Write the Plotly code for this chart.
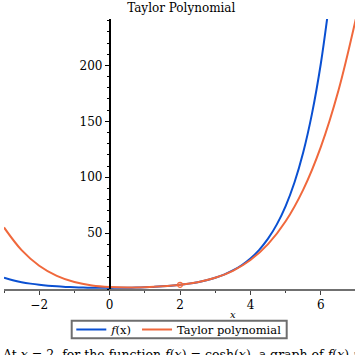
import plotly.graph_objects as go

# f(x) = cosh(x)
fx_x = [-3, -2.75, -2.5, -2.25, -2, -1.75, -1.5, -1.25, -1, -0.75, -0.5, -0.25, 0,
        0.25, 0.5, 0.75, 1, 1.25, 1.5, 1.75, 2, 2.25, 2.5, 2.75, 3, 3.25, 3.5, 3.75,
        4, 4.25, 4.5, 4.75, 5, 5.25, 5.5, 5.75, 6, 6.25]
fx_y = [10.07, 7.85, 6.13, 4.80, 3.76, 2.96, 2.35, 1.89, 1.54, 1.29, 1.13, 1.03, 1.0,
        1.03, 1.13, 1.29, 1.54, 1.89, 2.35, 2.96, 3.76, 4.80, 6.13, 7.85, 10.07, 12.92, 16.57, 21.27,
        27.31, 35.06, 45.01, 57.79, 74.21, 95.28, 122.35, 157.10, 201.72, 259.0]

# Taylor polynomial (degree 4 about x = 2)
tp_x = [-3, -2.5, -2, -1.5, -1, -0.5, 0, 0.5, 1, 1.5, 2, 2.5, 3, 3.5, 4, 4.5, 5, 5.5, 6, 6.5, 7]
tp_y = [55.07, 34.73, 20.80, 11.72, 6.19, 3.13, 1.71, 1.31, 1.57, 2.35, 3.76, 6.13, 10.03,
        16.27, 25.89, 40.15, 60.59, 88.94, 127.18, 177.53, 242.45]

center_x = [2]
center_y = [3.76]

x_ticks = [-2, 0, 2, 4, 6]
y_ticks = [50, 100, 150, 200]

BLUE = "#0a50d2"
ORANGE = "#f0683c"
FONT = "DejaVu Serif"
FS = 12

fig = go.Figure()
fig.add_trace(go.Scatter(x=fx_x, y=fx_y, mode="lines", name="<i>f</i>(x)",
                         line=dict(color=BLUE, width=2, shape="spline")))
fig.add_trace(go.Scatter(x=tp_x, y=tp_y, mode="lines", name="Taylor polynomial",
                         line=dict(color=ORANGE, width=2, shape="spline")))
fig.add_trace(go.Scatter(x=center_x, y=center_y, mode="markers", showlegend=False,
                         marker=dict(symbol="circle-open", size=5, color=ORANGE,
                                     line=dict(width=1.2, color=ORANGE))))

x0, x1 = -3, 6.97
ypos = (0 - x0) / (x1 - x0)

fig.update_layout(
    width=355, height=355,
    margin=dict(l=4, r=0, t=19, b=66),
    paper_bgcolor="white", plot_bgcolor="white",
    font=dict(family=FONT, size=FS, color="black"),
    title=dict(text="Taylor Polynomial", x=0.505, xref="paper", xanchor="center",
               y=1 - 8 / 355, yref="container", yanchor="middle",
               font=dict(family=FONT, size=FS, color="black")),
    showlegend=True,
    legend=dict(orientation="h", x=0.498, xanchor="center", y=(289 - 329.5) / 270, yanchor="middle",
                borderwidth=0, bgcolor="rgba(0,0,0,0)",
                font=dict(family=FONT, size=11.5, color="black"),
                itemwidth=30, tracegroupgap=0),
    xaxis=dict(range=[x0, x1], showgrid=False, zeroline=False,
               showline=True, linecolor="#707070", linewidth=2,
               tickvals=x_ticks, ticks="outside", ticklen=4, tickcolor="#404040", tickwidth=1,
               minor=dict(dtick=1, tick0=0, ticks="outside", ticklen=2, tickcolor="#404040"),
               tickfont=dict(family=FONT, size=FS, color="black"), fixedrange=True),
    yaxis=dict(range=[0, 241.5], showgrid=False, zeroline=False,
               anchor="free", position=ypos,
               showline=True, linecolor="black", linewidth=1.5,
               tickvals=y_ticks, ticks="outside", ticklen=4, tickcolor="black", tickwidth=1,
               minor=dict(dtick=10, tick0=0, ticks="outside", ticklen=2, tickcolor="black"),
               tickfont=dict(family=FONT, size=FS, color="black"), fixedrange=True),
)

# legend frame
fig.add_shape(type="rect", xref="paper", yref="paper",
              x0=(71.7 - 4) / 351, x1=(286.7 - 4) / 351,
              y0=(289 - 338.3) / 270, y1=(289 - 320.7) / 270,
              line=dict(color="#6e6e6e", width=2), fillcolor="rgba(0,0,0,0)")

fig.add_annotation(text="<i>x</i>", x=3.5, xref="x", y=0, yref="paper", yshift=-25,
                   xanchor="center", yanchor="middle", showarrow=False,
                   font=dict(family=FONT, size=10, color="black"))
fig.add_annotation(text="At <i>x</i> = 2, for the function <i>f</i>(<i>x</i>) = cosh(<i>x</i>), a graph of <i>f</i>(<i>x</i>) and its Taylor polynomial",
                   x=-4 / 351, xref="paper", xanchor="left",
                   y=-(345 - 289) / 270, yref="paper", yanchor="top", showarrow=False,
                   font=dict(family=FONT, size=12.5, color="black"))

fig.write_html("out.html", config={"displayModeBar": False},
               post_script="document.body.style.margin='0';document.body.style.overflow='hidden';")
